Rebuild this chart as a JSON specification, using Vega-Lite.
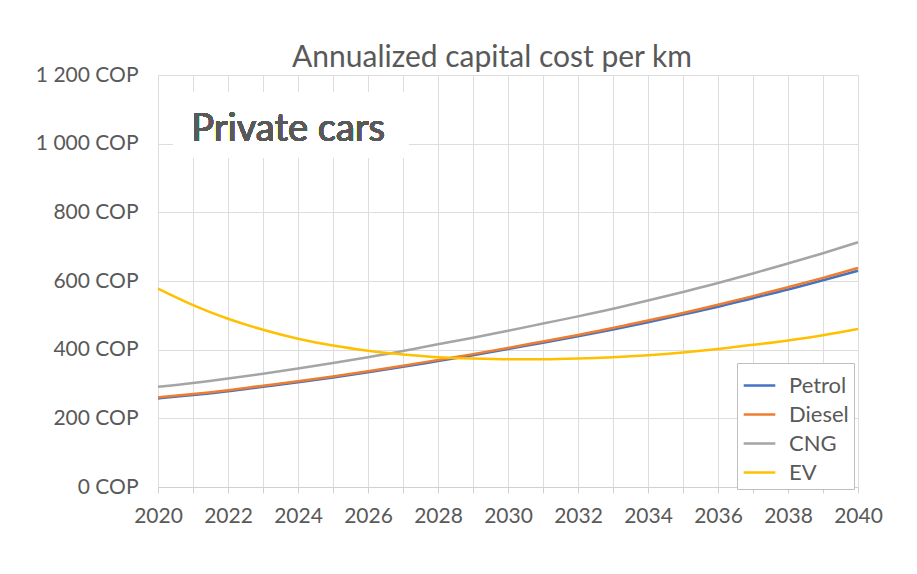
{
  "$schema": "https://vega.github.io/schema/vega-lite/v6.json",
  "autosize": "none",
  "width": 700,
  "height": 412,
  "padding": {"left": 158, "top": 75, "right": 59, "bottom": 87},
  "background": "white",
  "config": {
    "font": "Lato",
    "view": {"stroke": null}
  },
  "title": {
    "text": "Annualized capital cost per km",
    "fontSize": 30,
    "font": "Lato",
    "fontWeight": "normal",
    "color": "#595959",
    "offset": -9,
    "dx": -16
  },
  "data": {"values": [
    {"year": 2020, "fuel": "Petrol", "cost": 258}, {"year": 2021, "fuel": "Petrol", "cost": 268}, {"year": 2022, "fuel": "Petrol", "cost": 279}, {"year": 2023, "fuel": "Petrol", "cost": 292}, {"year": 2024, "fuel": "Petrol", "cost": 305}, {"year": 2025, "fuel": "Petrol", "cost": 319}, {"year": 2026, "fuel": "Petrol", "cost": 334}, {"year": 2027, "fuel": "Petrol", "cost": 350}, {"year": 2028, "fuel": "Petrol", "cost": 367}, {"year": 2029, "fuel": "Petrol", "cost": 384}, {"year": 2030, "fuel": "Petrol", "cost": 402}, {"year": 2031, "fuel": "Petrol", "cost": 420}, {"year": 2032, "fuel": "Petrol", "cost": 439}, {"year": 2033, "fuel": "Petrol", "cost": 459}, {"year": 2034, "fuel": "Petrol", "cost": 480}, {"year": 2035, "fuel": "Petrol", "cost": 502}, {"year": 2036, "fuel": "Petrol", "cost": 525}, {"year": 2037, "fuel": "Petrol", "cost": 550}, {"year": 2038, "fuel": "Petrol", "cost": 575}, {"year": 2039, "fuel": "Petrol", "cost": 602}, {"year": 2040, "fuel": "Petrol", "cost": 630},
    {"year": 2020, "fuel": "Diesel", "cost": 261}, {"year": 2021, "fuel": "Diesel", "cost": 271}, {"year": 2022, "fuel": "Diesel", "cost": 282}, {"year": 2023, "fuel": "Diesel", "cost": 295}, {"year": 2024, "fuel": "Diesel", "cost": 308}, {"year": 2025, "fuel": "Diesel", "cost": 322}, {"year": 2026, "fuel": "Diesel", "cost": 337}, {"year": 2027, "fuel": "Diesel", "cost": 353}, {"year": 2028, "fuel": "Diesel", "cost": 370}, {"year": 2029, "fuel": "Diesel", "cost": 387}, {"year": 2030, "fuel": "Diesel", "cost": 405}, {"year": 2031, "fuel": "Diesel", "cost": 424}, {"year": 2032, "fuel": "Diesel", "cost": 443}, {"year": 2033, "fuel": "Diesel", "cost": 463}, {"year": 2034, "fuel": "Diesel", "cost": 485}, {"year": 2035, "fuel": "Diesel", "cost": 507}, {"year": 2036, "fuel": "Diesel", "cost": 531}, {"year": 2037, "fuel": "Diesel", "cost": 556}, {"year": 2038, "fuel": "Diesel", "cost": 582}, {"year": 2039, "fuel": "Diesel", "cost": 609}, {"year": 2040, "fuel": "Diesel", "cost": 638},
    {"year": 2020, "fuel": "CNG", "cost": 292}, {"year": 2021, "fuel": "CNG", "cost": 303}, {"year": 2022, "fuel": "CNG", "cost": 316}, {"year": 2023, "fuel": "CNG", "cost": 330}, {"year": 2024, "fuel": "CNG", "cost": 345}, {"year": 2025, "fuel": "CNG", "cost": 361}, {"year": 2026, "fuel": "CNG", "cost": 378}, {"year": 2027, "fuel": "CNG", "cost": 396}, {"year": 2028, "fuel": "CNG", "cost": 416}, {"year": 2029, "fuel": "CNG", "cost": 435}, {"year": 2030, "fuel": "CNG", "cost": 455}, {"year": 2031, "fuel": "CNG", "cost": 476}, {"year": 2032, "fuel": "CNG", "cost": 497}, {"year": 2033, "fuel": "CNG", "cost": 519}, {"year": 2034, "fuel": "CNG", "cost": 543}, {"year": 2035, "fuel": "CNG", "cost": 568}, {"year": 2036, "fuel": "CNG", "cost": 594}, {"year": 2037, "fuel": "CNG", "cost": 622}, {"year": 2038, "fuel": "CNG", "cost": 651}, {"year": 2039, "fuel": "CNG", "cost": 681}, {"year": 2040, "fuel": "CNG", "cost": 713},
    {"year": 2020, "fuel": "EV", "cost": 578}, {"year": 2021, "fuel": "EV", "cost": 530}, {"year": 2022, "fuel": "EV", "cost": 490}, {"year": 2023, "fuel": "EV", "cost": 458}, {"year": 2024, "fuel": "EV", "cost": 432}, {"year": 2025, "fuel": "EV", "cost": 412}, {"year": 2026, "fuel": "EV", "cost": 397}, {"year": 2027, "fuel": "EV", "cost": 386}, {"year": 2028, "fuel": "EV", "cost": 378}, {"year": 2029, "fuel": "EV", "cost": 374}, {"year": 2030, "fuel": "EV", "cost": 372}, {"year": 2031, "fuel": "EV", "cost": 372}, {"year": 2032, "fuel": "EV", "cost": 374}, {"year": 2033, "fuel": "EV", "cost": 378}, {"year": 2034, "fuel": "EV", "cost": 384}, {"year": 2035, "fuel": "EV", "cost": 392}, {"year": 2036, "fuel": "EV", "cost": 402}, {"year": 2037, "fuel": "EV", "cost": 414}, {"year": 2038, "fuel": "EV", "cost": 427}, {"year": 2039, "fuel": "EV", "cost": 442}, {"year": 2040, "fuel": "EV", "cost": 460}
  ]},
  "encoding": {
    "x": {
      "field": "year", "type": "quantitative",
      "scale": {"domain": [2020, 2040], "nice": false, "zero": false},
      "axis": {
        "title": null,
        "values": [2020,2021,2022,2023,2024,2025,2026,2027,2028,2029,2030,2031,2032,2033,2034,2035,2036,2037,2038,2039,2040],
        "labelExpr": "datum.value % 2 == 0 ? format(datum.value, 'd') : ''",
        "labelFontSize": 21,
        "labelColor": "#595959",
        "labelPadding": 12,
        "labelFlush": false,
        "labelOverlap": false,
        "tickSize": 6,
        "tickColor": "#d0d0d0",
        "domainColor": "#d0d0d0",
        "gridColor": "#dddddd",
        "grid": true
      }
    },
    "y": {
      "field": "cost", "type": "quantitative",
      "scale": {"domain": [0, 1200], "nice": false},
      "axis": {
        "title": null,
        "values": [0, 200, 400, 600, 800, 1000, 1200],
        "labelExpr": "replace(format(datum.value, ','), ',', ' ') + ' COP'",
        "labelFontSize": 21,
        "labelColor": "#595959",
        "labelPadding": 20,
        "labelFlush": false,
        "ticks": false,
        "domain": false,
        "gridColor": "#dddddd"
      }
    }
  },
  "layer": [
    {
      "mark": {"type": "line", "strokeWidth": 2.5, "interpolate": "monotone"},
      "encoding": {
        "color": {
          "field": "fuel", "type": "nominal",
          "scale": {"domain": ["Petrol", "Diesel", "CNG", "EV"], "range": ["#4472c4", "#ed7d31", "#a5a5a5", "#ffc000"]},
          "legend": {
            "title": null,
            "orient": "none",
            "legendX": 579,
            "legendY": 288,
            "symbolType": "stroke",
            "symbolSize": 1000,
            "symbolStrokeWidth": 2.5,
            "labelFontSize": 22,
            "labelColor": "#595959",
            "labelOffset": 12,
            "rowPadding": -2.6,
            "padding": 5,
            "fillColor": "white",
            "strokeColor": "#bfbfbf"
          }
        }
      }
    },
    {
      "mark": {"type": "rect", "fill": "white"},
      "encoding": {
        "x": {"datum": 2020.45},
        "x2": {"datum": 2027.15},
        "y": {"datum": 1150},
        "y2": {"datum": 960}
      }
    },
    {
      "mark": {"type": "text", "align": "left", "baseline": "middle", "fontSize": 38, "fill": "#595959", "font": "Lato"},
      "encoding": {
        "x": {"datum": 2020.95},
        "y": {"datum": 1040},
        "text": {"value": "Private cars"}
      }
    }
  ]
}
